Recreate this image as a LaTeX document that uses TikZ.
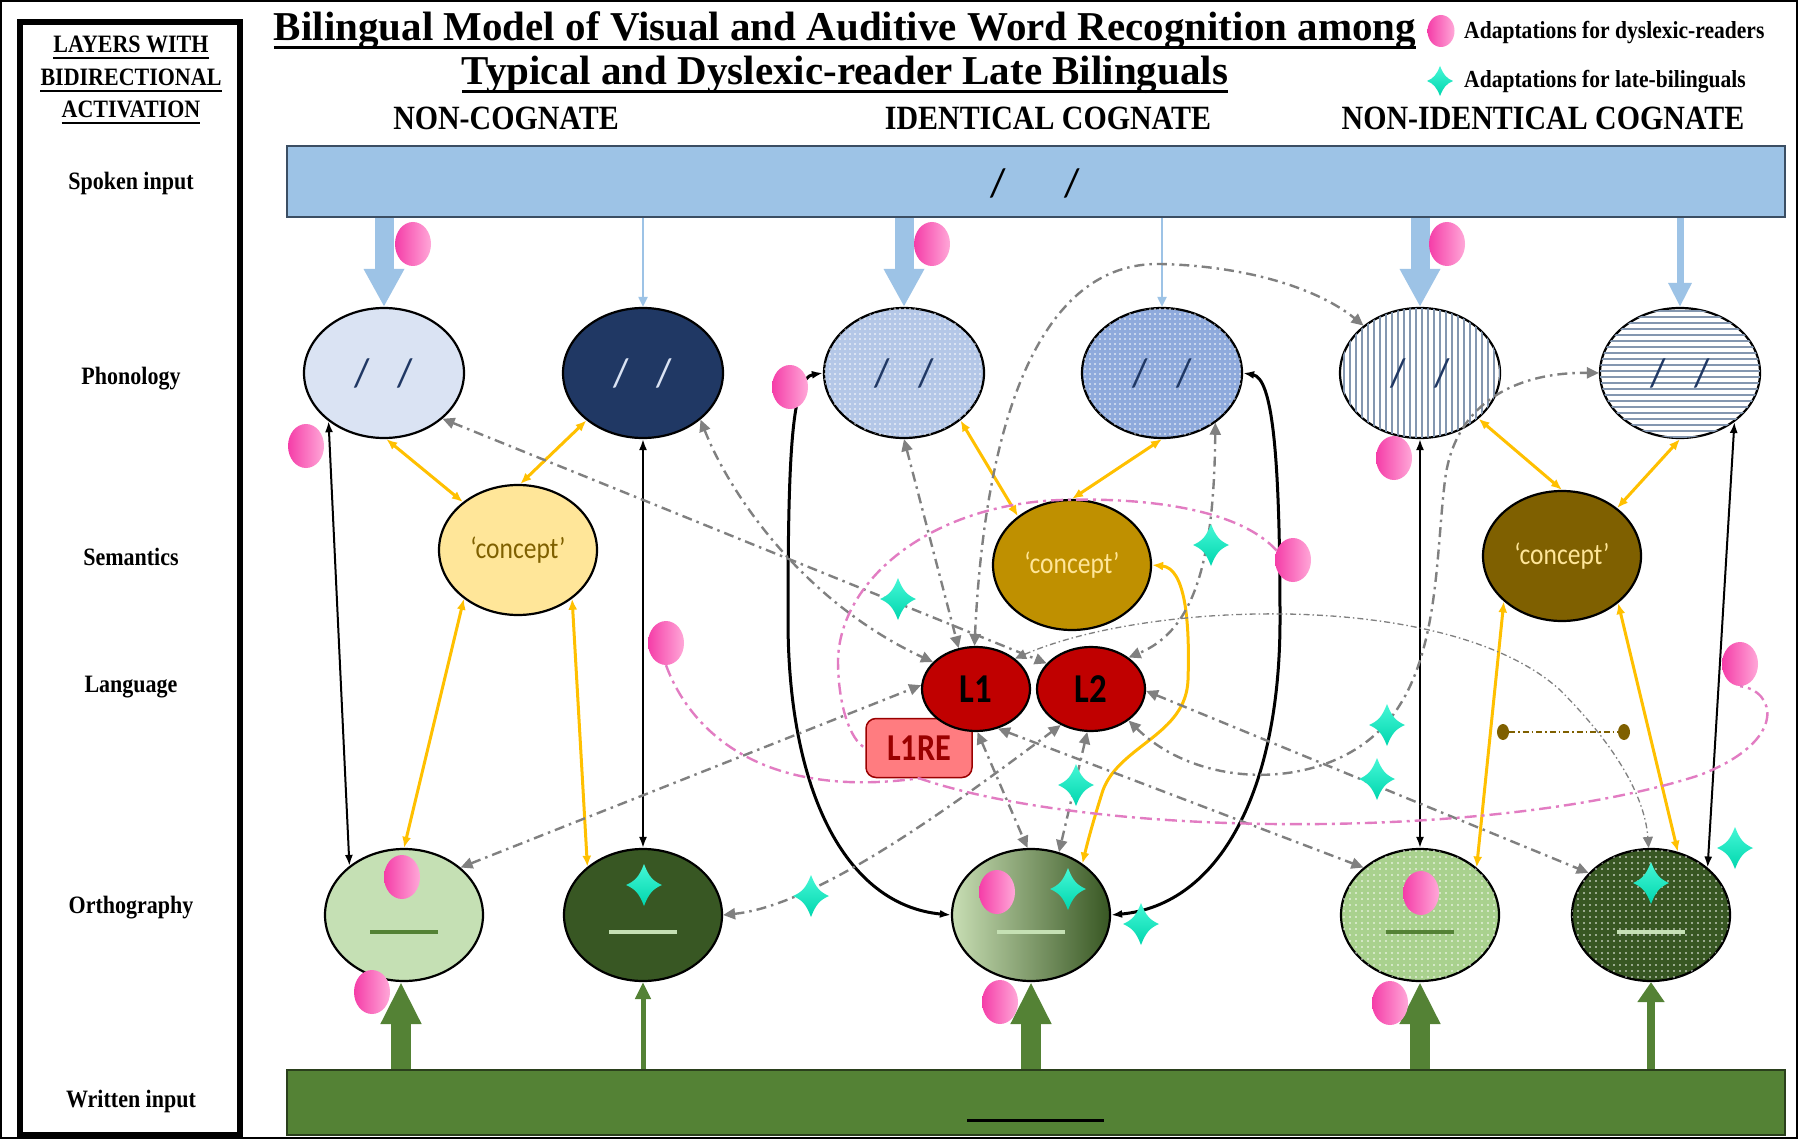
\documentclass[tikz,border=0pt]{standalone}
\usepackage{fontspec}
\setmainfont[FakeStretch=0.88]{Liberation Serif}
\newfontfamily\titlefont{Liberation Serif}
\newfontfamily\carl{Carlito}
\newfontfamily\carlc[FakeStretch=0.85]{Carlito}
\usetikzlibrary{shapes.geometric,arrows.meta,patterns.meta}
\definecolor{spkblue}{HTML}{9DC3E6}
\definecolor{spkedge}{HTML}{3B4E63}
\definecolor{wrgreen}{HTML}{548235}
\definecolor{wredge}{HTML}{2A3F1C}
\definecolor{navy}{HTML}{203864}
\definecolor{p1c}{HTML}{DAE3F3}
\definecolor{p3c}{HTML}{B4C7E7}
\definecolor{p4c}{HTML}{8FAADC}
\definecolor{linec}{HTML}{8497B0}
\definecolor{c1c}{HTML}{FFE699}
\definecolor{c1t}{HTML}{7F6000}
\definecolor{c2c}{HTML}{BF9000}
\definecolor{c3c}{HTML}{7F6000}
\definecolor{o1c}{HTML}{C5E0B4}
\definecolor{o2c}{HTML}{385723}
\definecolor{o3l}{HTML}{C8DEB4}
\definecolor{o3m}{HTML}{7E9E63}
\definecolor{o4c}{HTML}{A9D18E}
\definecolor{lred}{HTML}{C00000}
\definecolor{rebg}{HTML}{FF7C80}
\definecolor{retx}{HTML}{9A0000}
\definecolor{yel}{HTML}{FFC000}
\definecolor{greyc}{HTML}{808080}
\definecolor{pinkline}{HTML}{E27CC2}
\definecolor{pinkD}{HTML}{F53DA8}
\definecolor{pinkL}{HTML}{FFA8D8}
\definecolor{tealA}{HTML}{45F7D6}
\definecolor{tealB}{HTML}{00D6AE}
\definecolor{brownd}{HTML}{7F6000}
\tikzset{
  lay/.style={font=\fontsize{25}{27}\selectfont\bfseries, inner sep=0pt, anchor=base},
  hdr/.style={font=\fontsize{34}{36}\selectfont\bfseries, inner sep=0pt, anchor=base},
  ttl/.style={font=\titlefont\fontsize{41}{44}\selectfont\bfseries, inner sep=0pt, anchor=base},
  legtext/.style={font=\fontsize{24.5}{26}\selectfont\bfseries, inner sep=0pt, anchor=base west},
  bub/.style={ellipse, draw=black, line width=2.2pt, inner sep=0pt},
  phon/.style={bub, minimum width=160pt, minimum height=130pt, font=\carl\fontsize{40}{40}\selectfont},
  sem/.style={bub, minimum width=158pt, minimum height=130pt, font=\carlc\fontsize{30}{32}\selectfont},
  orth/.style={bub, minimum width=158pt, minimum height=132pt},
  lang/.style={bub, fill=lred, minimum width=108pt, minimum height=84pt, font=\carlc\bfseries\fontsize{41}{41}\selectfont},
  pinkdot/.style={ellipse, minimum width=36pt, minimum height=44pt, inner sep=0pt, left color=pinkD, right color=pinkL},
  brdot/.style={ellipse, minimum width=12pt, minimum height=16pt, inner sep=0pt, fill=brownd},
  blk/.style={draw=black, line width=2pt, >={Latex[length=11pt,width=8pt]}, <->},
  blkthick/.style={blk, line width=3pt},
  yl/.style={draw=yel, line width=3pt, >={Latex[length=11pt,width=9pt]}, <->},
  gry/.style={draw=greyc, line width=2.4pt, dash pattern=on 10pt off 5pt on 2.5pt off 5pt, >={Triangle[length=12pt,width=11pt]}, <->},
  grythin/.style={draw=greyc, line width=1.3pt, dash pattern=on 6pt off 3pt on 1.5pt off 3pt, >={Triangle[length=11pt,width=10pt]}, <->},
  pinkdash/.style={draw=pinkline, line width=2.4pt, dash pattern=on 12pt off 5pt on 3pt off 5pt},
  spkthick/.style={draw=spkblue, line width=19pt, -{Triangle[length=38pt,width=38pt]}},
  spkthin/.style={draw=spkblue, line width=2pt, -{Triangle[length=10pt,width=9pt]}},
  spkmid/.style={draw=spkblue, line width=7pt, -{Triangle[length=24pt,width=22pt]}},
  wrthick/.style={draw=wrgreen, line width=20pt, -{Triangle[length=42pt,width=38pt]}},
  wrthin/.style={draw=wrgreen, line width=5pt, -{Triangle[length=17pt,width=15pt]}},
  wrmid/.style={draw=wrgreen, line width=8pt, -{Triangle[length=20pt,width=26pt]}},
  ortholine/.style={line width=4pt},
  sparkle/.pic={
    \shade[top color=tealA, bottom color=tealB]
      (0,-21) .. controls (5,-8) and (9,-4) .. (18,0)
      .. controls (9,4) and (5,8) .. (0,21)
      .. controls (-5,8) and (-9,4) .. (-18,0)
      .. controls (-9,-4) and (-5,-8) .. (0,-21) -- cycle;
  }
}
\begin{document}
\begin{tikzpicture}[x=1pt,y=-1pt]
\useasboundingbox (0,0) rectangle (1798,1139);
\fill[white] (0,0) rectangle (1798,1139);
\draw[line width=2pt] (1,1) rectangle (1797,1138);
% left panel
\draw[line width=6pt] (20,22) rectangle (240,1135);
\node[lay] (lw1) at (131,53) {LAYERS WITH};
\node[lay] (lw2) at (131,86) {BIDIRECTIONAL};
\node[lay] (lw3) at (131,118) {ACTIVATION};
\foreach \n in {lw1,lw2,lw3}
  \draw[line width=2pt] ([yshift=-5pt]\n.base west) -- ([yshift=-5pt]\n.base east);
\node[lay] (lspk) at (131,190) {Spoken input};
\node[lay] (lpho) at (131,384) {Phonology};
\node[lay] (lsem) at (131,565) {Semantics};
\node[lay] (llan) at (131,692) {Language};
\node[lay] (lort) at (131,913) {Orthography};
\node[lay] (lwri) at (131,1107) {Written input};
% titles
\node[ttl] (t1) at (845,41) {Bilingual Model of Visual and Auditive Word Recognition among};
\node[ttl] (t2) at (845,85) {Typical and Dyslexic-reader Late Bilinguals};
\foreach \n in {t1,t2}
  \draw[line width=3pt] ([yshift=-7pt]\n.base west) -- ([yshift=-7pt]\n.base east);
\node[hdr] (h1) at (506,130) {NON-COGNATE};
\node[hdr] (h2) at (1048,130) {IDENTICAL COGNATE};
\node[hdr] (h3) at (1543,130) {NON-IDENTICAL COGNATE};
% legend
\node[pinkdot, minimum width=27pt, minimum height=32pt] (lgp) at (1441,31) {};
\pic[scale=0.72] at (1440,81) {sparkle};
\node[legtext] (lg1) at (1464,39) {Adaptations for dyslexic-readers};
\node[legtext] (lg2) at (1464,88) {Adaptations for late-bilinguals};
% bars
\node[draw=spkedge, line width=2pt, fill=spkblue, minimum width=1498pt, minimum height=71pt, inner sep=0pt] (spk) at (1036,181.5) {};
\node[font=\carl\fontsize{40}{40}\selectfont, inner sep=0pt] (spks) at (1035,183) {/\kern58pt/};
\node[draw=wredge, line width=2pt, fill=wrgreen, minimum width=1498pt, minimum height=65pt, inner sep=0pt] (wri) at (1036,1102.5) {};
\coordinate (wl1) at (967,1120);
\coordinate (wl2) at (1104,1120);
\draw[line width=3pt] (wl1) -- (wl2);
% phonology
\node[phon, fill=p1c, text=navy] (p1) at (384,373) {/\kern28pt/};
\node[phon, fill=navy, text=p1c] (p2) at (643,373) {/\kern28pt/};
\node[phon, fill=p3c, text=navy, postaction={pattern={Dots[distance=5pt,radius=0.8pt]}, pattern color=white}] (p3) at (904,373) {/\kern28pt/};
\node[phon, fill=p4c, text=navy, postaction={pattern={Dots[distance=5pt,radius=0.8pt]}, pattern color=white}] (p4) at (1162,373) {/\kern28pt/};
\node[phon, fill=white, text=navy, postaction={pattern={Lines[angle=90,distance=6pt,line width=1.2pt]}, pattern color=linec}] (p5) at (1420,373) {/\kern28pt/};
\node[phon, fill=white, text=navy, postaction={pattern={Lines[angle=0,distance=6pt,line width=1.2pt]}, pattern color=linec}] (p6) at (1680,373) {/\kern28pt/};
% semantics
\node[sem, fill=c1c, text=c1t] (c1) at (518,550) {‘concept’};
\node[sem, fill=c2c, text=c1c] (c2) at (1072,565) {‘concept’};
\node[sem, fill=c3c, text=c1c] (c3) at (1562,556) {‘concept’};
% language
\node[rectangle, rounded corners=10pt, fill=rebg, draw=retx, line width=1.5pt, minimum width=106pt, minimum height=59pt, inner sep=0pt, text=retx, font=\carlc\bfseries\fontsize{38}{38}\selectfont] (l1re) at (919,748) {L1RE};
\node[lang] (l1) at (976,689) {L1};
\node[lang] (l2) at (1091,689) {L2};
% orthography
\node[orth, fill=o1c] (o1) at (404,915) {};
\node[orth, fill=o2c] (o2) at (643,915) {};
\node[orth, left color=o3l, middle color=o3m, right color=o2c] (o3) at (1031,915) {};
\node[orth, fill=o4c, postaction={pattern={Dots[distance=6pt,radius=0.8pt]}, pattern color=white}] (o4) at (1420,915) {};
\node[orth, fill=o2c, postaction={pattern={Dots[distance=6pt,radius=0.8pt]}, pattern color=white}] (o5) at (1651,915) {};
\draw[ortholine, draw=wrgreen] ([xshift=-34pt,yshift=-17pt]o1.center) -- ([xshift=34pt,yshift=-17pt]o1.center);
\draw[ortholine, draw=o1c] ([xshift=-34pt,yshift=-17pt]o2.center) -- ([xshift=34pt,yshift=-17pt]o2.center);
\draw[ortholine, draw=o1c] ([xshift=-34pt,yshift=-17pt]o3.center) -- ([xshift=34pt,yshift=-17pt]o3.center);
\draw[ortholine, draw=wrgreen] ([xshift=-34pt,yshift=-17pt]o4.center) -- ([xshift=34pt,yshift=-17pt]o4.center);
\draw[ortholine, draw=o1c] ([xshift=-34pt,yshift=-17pt]o5.center) -- ([xshift=34pt,yshift=-17pt]o5.center);
% spoken arrows
\draw[spkthick] (p1.north |- spk.south) -- (p1.north);
\draw[spkthin] (p2.north |- spk.south) -- (p2.north);
\draw[spkthick] (p3.north |- spk.south) -- (p3.north);
\draw[spkthin] (p4.north |- spk.south) -- (p4.north);
\draw[spkthick] (p5.north |- spk.south) -- (p5.north);
\draw[spkmid] (p6.north |- spk.south) -- (p6.north);
% written arrows
\draw[wrthick] ([xshift=-3pt]o1.south |- wri.north) -- ([xshift=-3pt]o1.south);
\draw[wrthin] (o2.south |- wri.north) -- (o2.south);
\draw[wrthick] (o3.south |- wri.north) -- (o3.south);
\draw[wrthick] (o4.south |- wri.north) -- (o4.south);
\draw[wrmid] (o5.south |- wri.north) -- (o5.south);
% black connectors
\draw[blk] (p1.-139) -- (o1.138);
\draw[blk] (p2.south) -- (o2.north);
\draw[blkthick] (p3.west) .. controls (792,378) and (788,450) .. (788,620) .. controls (788,790) and (845,905) .. (o3.west);
\draw[blkthick] (p4.east) .. controls (1272,378) and (1280,450) .. (1280,620) .. controls (1280,790) and (1220,905) .. (o3.east);
\draw[blk] (p5.south) -- (o4.north);
\draw[blk] (p6.-42) -- (o5.40);
% yellow connectors
\draw[yl] (p1.-88) -- (c1.139);
\draw[yl] (p2.-140) -- (c1.88);
\draw[yl] (c1.-138) -- (o1.north);
\draw[yl] (c1.-42) -- (o2.139);
\draw[yl] (p3.-40) -- (c2.138);
\draw[yl] (p4.south) -- (c2.north);
\draw[yl] (c2.east) .. controls (1185,568) and (1190,620) .. (1188,680) .. controls (1186,735) and (1120,745) .. (1103,790) .. controls (1095,815) and (1088,840) .. (o3.45);
\draw[yl] (p5.-38) -- (c3.north);
\draw[yl] (p6.south) -- (c3.41);
\draw[yl] (c3.-142) -- (o4.40);
\draw[yl] (c3.-40) -- (o5.67);
% grey connectors
\draw[gry] (p1.-38) -- (l2.150);
\draw[gry] (p2.-39) .. controls (728,490) and (800,600) .. (l1.148);
\draw[gry] (p3.-90) -- (l1.113);
\draw[gry] (l1.92) .. controls (985,420) and (1040,262) .. (1160,264) .. controls (1250,266) and (1320,290) .. (p5.140);
\draw[gry] (p4.-43) .. controls (1214,560) and (1195,630) .. (l2.40);
\draw[grythin] (l1.38) .. controls (1150,600) and (1450,590) .. (1560,690) .. controls (1620,750) and (1645,800) .. (o5.92);
\draw[gry] (o1.40) -- (l1.176);
\draw[gry] (o2.0) .. controls (820,905) and (960,800) .. (l2.-130);
\draw[gry] (l1.-88) -- (o3.93);
\draw[gry] (l2.-95) -- (o3.66);
\draw[gry] (l1.-61) -- (o4.140);
\draw[gry] (l2.-2) -- (o5.146);
\draw[gry] (l2.-40) .. controls (1200,790) and (1320,790) .. (1380,730) .. controls (1440,670) and (1435,560) .. (1445,480) .. controls (1455,400) and (1520,372) .. (p6.180);
% pink dots
\foreach \nm/\px/\py in {pk1/413/244, pk2/932/244, pk3/1447/244, pk4/306/446, pk5/790/387, pk6/1394/458, pk7/1293/560, pk8/666/643, pk9/1740/664, pk10/402/877, pk11/997/892, pk12/1421/893, pk13/372/992, pk14/1000/1002, pk15/1390/1003}
  \node[pinkdot] (\nm) at (\px,\py) {};
% pink dash-dot links
\draw[pinkdash] (pk7.150) .. controls (1240,510) and (1150,497) .. (1060,500) .. controls (930,505) and (840,580) .. (838,660) .. controls (838,705) and (850,740) .. (l1re.west);
\draw[pinkdash] (pk8.south) .. controls (690,730) and (760,800) .. (l1re.south);
\draw[pinkdash] (l1re.south) .. controls (1100,840) and (1500,840) .. (1700,775) .. controls (1790,740) and (1775,690) .. (pk9.south);
% brown dots
\node[brdot] (bd1) at (1503,732) {};
\node[brdot] (bd2) at (1624,732) {};
\draw[draw=brownd, line width=1.5pt, dash pattern=on 6pt off 3pt on 1.5pt off 3pt] (bd1) -- (bd2);
% teal sparkles
\foreach \px/\py in {898/599, 1211/545, 1387/725, 1377/779, 1076/785, 811/896, 1141/924, 1735/848, 644/885, 1068/889, 1651/883}
  \pic at (\px,\py) {sparkle};
\end{tikzpicture}
\end{document}
